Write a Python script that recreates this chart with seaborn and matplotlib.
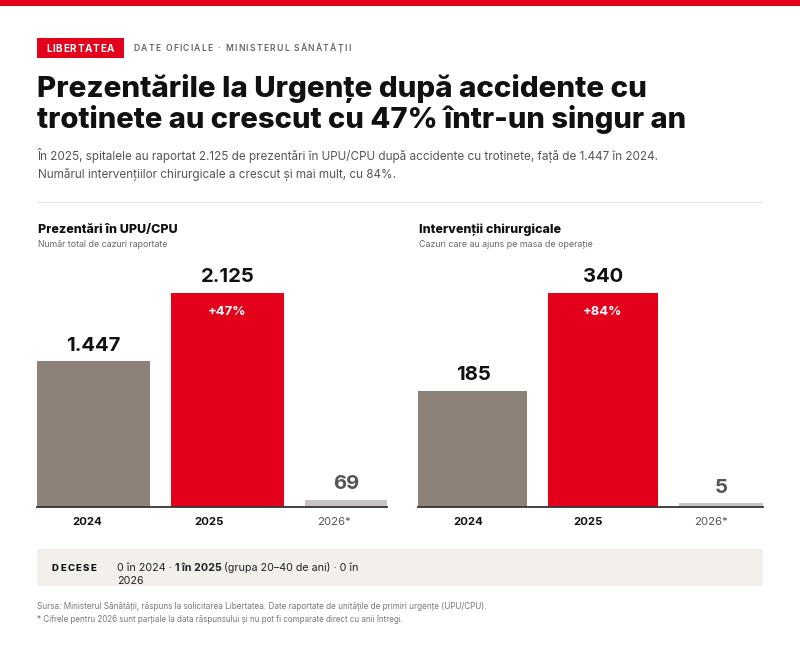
# grafic prezentari UPU si interventii - trotinete
import matplotlib
matplotlib.use("Agg")
import matplotlib.pyplot as plt
from matplotlib.patches import Rectangle
import pandas as pd
import seaborn as sns

years = ["2024", "2025", "2026*"]
prezentari = [1447, 2125, 69]
interventii = [185, 340, 5]
prezentari_labels = ["1.447", "2.125", "69"]
interventii_labels = ["185", "340", "5"]
growth_labels = ["+47%", "+84%"]

RED = "#E2001A"
GREY = "#8C8279"
LIGHT = "#C8C4BF"
INK = "#111111"

sns.set_theme(style="white")
plt.rcParams["font.family"] = ["Inter", "DejaVu Sans"]

W, H = 800, 653
fig = plt.figure(figsize=(W / 100, H / 100), dpi=100, facecolor="white")


def put(x, y, s, size, color=INK, weight="normal", ha="left", **kw):
    return fig.text(x / W, 1 - y / H, s, fontsize=size, color=color, weight=weight,
                    ha=ha, va="baseline", **kw)


def box(x0, y0, x1, y1, color):
    fig.add_artist(Rectangle((x0 / W, 1 - y1 / H), (x1 - x0) / W, (y1 - y0) / H,
                             transform=fig.transFigure, color=color, lw=0))


def runs(x, y, parts, size, color):
    # text cu portiuni bold pe acelasi rand
    r = fig.canvas.get_renderer()
    for s, w in parts:
        t = put(x, y, s.replace(" ", "\u00a0"), size, color, w)
        x += t.get_window_extent(r).width


def tracked(x, y, s, size, color, weight, gap):
    # litere rasfirate, cate una
    r = fig.canvas.get_renderer()
    for ch in s:
        t = put(x, y, ch.replace(" ", "\u00a0"), size, color, weight)
        x += t.get_window_extent(r).width + gap


def panel(x0, x1, top, base, values, labels, lefts, widths, ticks, centers, scale, growth):
    ax = fig.add_axes([x0 / W, 1 - base / H, (x1 - x0) / W, (base - top) / H])
    df = pd.DataFrame({"an": years, "val": values})
    sns.barplot(data=df, x="an", y="val", hue="an", palette=[GREY, RED, LIGHT],
                legend=False, width=1, saturation=1, linewidth=0, ax=ax)
    # barele nu au latime egala in original, iar cea mica are o inaltime minima
    for p, l, w in zip(ax.patches, lefts, widths):
        p.set_x(l)
        p.set_width(w)
        p.set_height(max(p.get_height(), 4.5 / scale))
    ax.set_xlim(0, x1 - x0)
    ax.set_ylim(0, (base - top) / scale)
    ax.set_yticks([])
    ax.set_xlabel("")
    ax.set_ylabel("")
    ax.patch.set_alpha(0)
    ax.set_xticks(ticks)
    ax.set_xticklabels(years, fontsize=8.2, weight="bold", color=INK)
    ax.get_xticklabels()[2].set_weight("normal")
    ax.get_xticklabels()[2].set_color("#555555")
    ax.tick_params(axis="x", length=0, pad=7.5)
    sns.despine(ax=ax, left=True)
    ax.spines["bottom"].set_color("#333333")
    ax.spines["bottom"].set_linewidth(1.3)
    for c, v, s, col in zip(centers, values, labels, [INK, INK, "#555555"]):
        ax.annotate(s, (c, v), xytext=(0, 4.8), textcoords="offset points", ha="center",
                    va="bottom", fontsize=14.6, weight="bold", color=col)
    ax.annotate(growth, (centers[1], values[1]), xytext=(0, -15.5), textcoords="offset points",
                ha="center", va="baseline", fontsize=9.4, weight="bold", color="white")
    return ax


box(0, 0, W, 6, RED)
box(37, 38, 124, 58, RED)
tracked(46, 52, "LIBERTATEA", 7.2, "white", "bold", 0.75)
tracked(133.5, 51, "DATE OFICIALE · MINISTERUL SĂNĂTĂȚII", 6.2, "#666666", "semibold", 1.28)
put(37, 97, "Prezentările la Urgențe după accidente cu", 21.3, INK, 800)
put(37, 128, "trotinete au crescut cu 47% într-un singur an", 21, INK, 800)
put(37, 160, "În 2025, spitalele au raportat 2.125 de prezentări în UPU/CPU după accidente cu trotinete, față de 1.447 în 2024.", 8.43, "#555555")
put(38, 178, "Numărul intervențiilor chirurgicale a crescut și mai mult, cu 84%.", 8.43, "#555555")
box(37, 202, 763, 203, "#E8E6E3")

put(38, 233, "Prezentări în UPU/CPU", 9, INK, 800)
put(38, 247, "Număr total de cazuri raportate", 6.35, "#666666")
put(419, 233, "Intervenții chirurgicale", 9, INK, 800)
put(419, 247, "Cazuri care au ajuns pe masa de operație", 6.4, "#666666")

panel(37, 387, 255, 507, prezentari, prezentari_labels, [0, 134, 268], [113, 113, 82],
      [50, 172, 297], [56.5, 190.5, 309], 214 / 2125, growth_labels[0])
panel(418.5, 763, 255, 507, interventii, interventii_labels, [0, 130, 261], [109, 109.5, 84],
      [49.5, 169.5, 292.5], [54.5, 184.5, 303], 214 / 340, growth_labels[1])

box(37, 549, 763, 585.5, "#F3F0EC")
tracked(52, 571, "DECESE", 6.9, INK, 800, 1.35)
runs(117, 571, [("0 în 2024 · ", "normal"), ("1 în 2025 ", "bold"),
                ("(grupa 20–40 de ani) · 0 în", "normal")], 7.7, "#222222")
put(117, 584, "2026", 7.7, "#222222")

put(37, 609, "Sursa: Ministerul Sănătății, răspuns la solicitarea Libertatea. Date raportate de unitățile de primiri urgențe (UPU/CPU).", 5.85, "#777777")
put(37, 622, "* Cifrele pentru 2026 sunt parțiale la data răspunsului și nu pot fi comparate direct cu anii întregi.", 5.75, "#777777")

fig.savefig("out.png", dpi=100)
